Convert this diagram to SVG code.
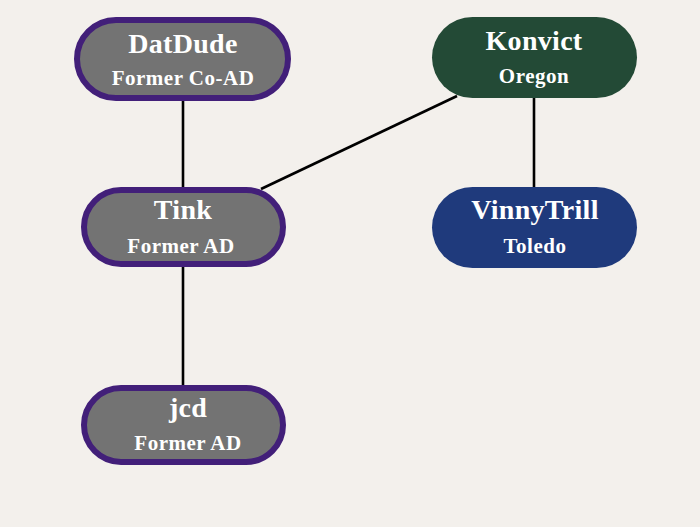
<svg xmlns="http://www.w3.org/2000/svg" width="700" height="527" viewBox="0 0 700 527">
<style>
.bg{fill:#f3f0ec}
.gray{fill:#737373;stroke:#421f79;stroke-width:6}
.green{fill:#234a36}
.blue{fill:#1f3a7c}
.t{font-family:"Liberation Serif","DejaVu Serif",serif;font-weight:bold;fill:#ffffff;text-anchor:middle}
.h{font-size:28px;letter-spacing:0.3px}
.s{font-size:21px;letter-spacing:0.5px}
.edge{stroke:#000;stroke-width:2.6;fill:none}
</style>
<rect class="bg" x="0" y="0" width="700" height="527"/>
<g id="connectors">
<line class="edge" x1="183" y1="101" x2="183" y2="187"/>
<line class="edge" x1="183" y1="267" x2="183" y2="385"/>
<line class="edge" x1="534" y1="98" x2="534" y2="187"/>
<line class="edge" x1="457" y1="96" x2="261" y2="189"/>
</g>
<g id="datdude">
<rect class="gray" x="77" y="20" width="211" height="78" rx="39"/>
<text class="t h" x="183" y="53">DatDude</text>
<text class="t s" x="183" y="85">Former Co-AD</text>
</g>
<g id="konvict">
<rect class="green" x="432" y="17" width="205" height="81" rx="40.5"/>
<text class="t h" x="534" y="50">Konvict</text>
<text class="t s" x="534" y="83">Oregon</text>
</g>
<g id="tink">
<rect class="gray" x="84" y="190" width="199" height="74" rx="37"/>
<text class="t h" x="183" y="219">Tink</text>
<text class="t s" x="181" y="253">Former AD</text>
</g>
<g id="vinnytrill">
<rect class="blue" x="432" y="187" width="205" height="81" rx="40.5"/>
<text class="t h" x="535" y="219">VinnyTrill</text>
<text class="t s" x="535" y="253">Toledo</text>
</g>
<g id="jcd">
<rect class="gray" x="84" y="388" width="199" height="74" rx="37"/>
<text class="t h" x="188" y="417">jcd</text>
<text class="t s" x="188" y="450">Former AD</text>
</g>
</svg>
